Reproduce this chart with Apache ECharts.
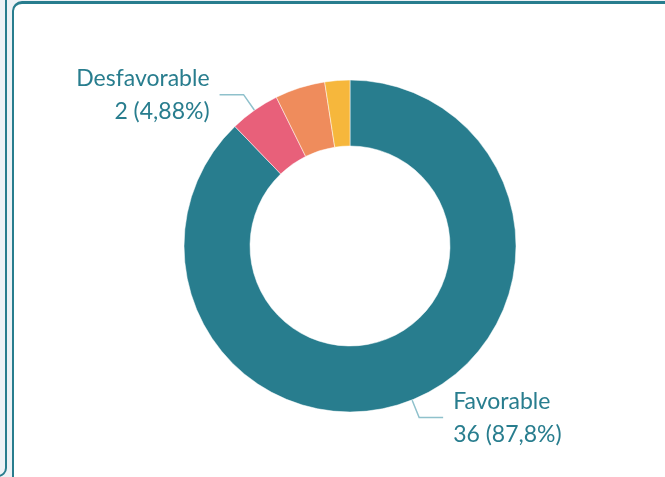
<!DOCTYPE html>
<html>
<head>
<meta charset="utf-8">
<script src="https://cdn.jsdelivr.net/npm/echarts@6/dist/echarts.min.js"></script>
<style>
  html, body { margin: 0; padding: 0; width: 665px; height: 477px; overflow: hidden; background: #eef2f6; }
  .side { position: absolute; left: -30px; top: -20px; width: 33px; height: 493px; border: 2px solid #287d8e; border-radius: 9px; background: #eef2f6; }
  .panel { position: absolute; left: 12px; top: 1px; width: 700px; height: 520px; border: 2px solid #287d8e; border-top-width: 3px; border-radius: 10px; background: #ffffff; }
  #grafico { position: absolute; left: 0; top: 0; width: 665px; height: 477px; }
</style>
</head>
<body>
<div class="side"></div>
<div class="panel"></div>
<div id="grafico"></div>
<script>
  // dados do gráfico
  var categorias = ['Favorable', 'Desfavorable', 'Neutral', 'Sin respuesta'];
  var valores = [36, 2, 2, 1];
  var cores = ['#287d8e', '#e8607a', '#ef8c5c', '#f6b73c'];
  var comRotulo = [true, true, false, false];

  var myChart = echarts.init(document.getElementById('grafico'));

  var dados = categorias.map(function (nome, i) {
    return {
      name: nome,
      value: valores[i],
      itemStyle: { color: cores[i] },
      label: { show: comRotulo[i] },
      labelLine: { show: comRotulo[i] }
    };
  });

  var option = {
    animation: false,
    series: [
      {
        type: 'pie',
        center: [350, 246],
        radius: [100, 166],
        startAngle: 90,
        clockwise: true,
        avoidLabelOverlap: false,
        itemStyle: { borderColor: '#ffffff', borderWidth: 0.5 },
        label: {
          color: '#287d8e',
          fontFamily: 'Lato',
          fontSize: 23,
          lineHeight: 33,
          distanceToLabelLine: 10,
          formatter: function (p) {
            var pct = (Math.round(p.percent * 100) / 100).toString().replace('.', ',');
            if (p.name === 'Favorable') pct = p.percent.toFixed(1).replace('.', ',');
            return p.name + '\n' + p.value + ' (' + pct + '%)';
          }
        },
        labelLine: {
          length: 19,
          length2: 24,
          lineStyle: { color: '#8fc1cc', width: 1.5 }
        },
        data: dados
      }
    ]
  };

  myChart.setOption(option);
</script>
</body>
</html>
